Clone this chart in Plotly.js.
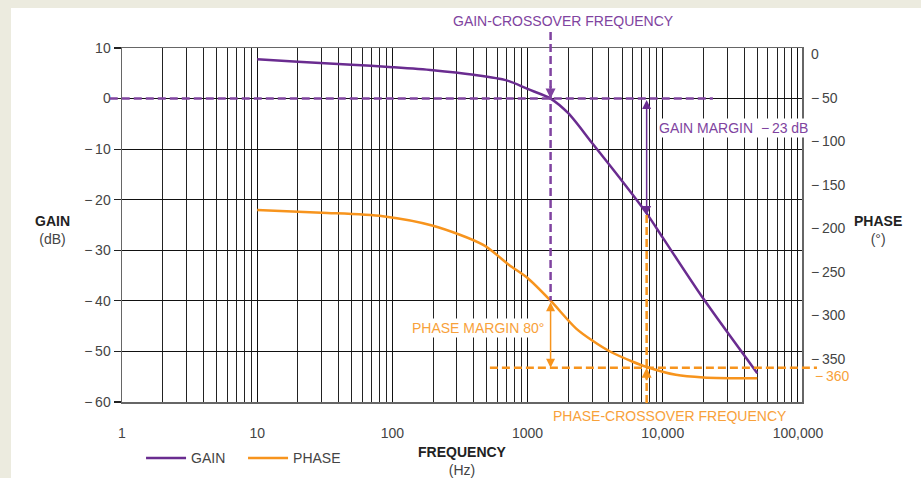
<!DOCTYPE html>
<html><head><meta charset="utf-8">
<script src="https://cdn.plot.ly/plotly-3.0.1.min.js"></script>
<style>
html,body{margin:0;padding:0;background:#ecebdf;width:921px;height:478px;overflow:hidden;}
#chart{position:absolute;left:11px;top:8px;width:910px;height:470px;}
</style></head><body><div id="chart"></div>
<script>
// ---- data ----
const gainFreqHz = [10, 20, 50, 100, 200, 400, 700, 1000, 1480, 2000, 3000, 5000, 7600, 10000, 20000, 50000];
const gainDb     = [7.8, 7.3, 6.7, 6.2, 5.6, 4.7, 3.6, 1.9, 0, -2.9, -8.8, -16.3, -22.7, -27.5, -39.6, -54.3];
const phaseFreqHz = [10, 30, 85, 200, 470, 730, 1000, 1480, 2290, 3030, 4040, 6000, 7600, 12500, 20000, 50000];
const phaseDeg    = [-179, -182, -186, -197, -219, -242, -257, -283, -315, -329, -341, -353, -359, -368, -371, -372];

const freqTickVals = [1, 10, 100, 1000, 10000, 100000];
const freqTickText = ['1', '10', '100', '1000', '10,000', '100,000'];
const gainTickVals = [10, 0, -10, -20, -30, -40, -50, -60];
const phaseTickVals = [0, -50, -100, -150, -200, -250, -300, -350, -400];

const gainCrossoverHz = 1480;
const phaseCrossoverHz = 7600;
const gainMarginDb = -23;
const phaseAtGainCrossoverDeg = -283;
const phaseCrossoverDeg = -360;
const phaseMarginDeg = 80;

// ---- helpers ----
const PURPLE = '#6a2c90', PURPLE_L = '#8043a0', ORANGE = '#f7941d', ORANGE_T = '#f8a13a';
const NARROW = "'Liberation Sans Narrow','Arial Narrow','Liberation Sans',sans-serif";
const BASE = '"Liberation Sans",Arial,sans-serif';
const Y_RANGE = [-60, 10];
const Y2_RANGE = [-399.2, 6.9];
const yP = v => (v - Y_RANGE[0]) / (Y_RANGE[1] - Y_RANGE[0]);
const y2P = v => (v - Y2_RANGE[0]) / (Y2_RANGE[1] - Y2_RANGE[0]);
const lg = Math.log10;
const fmt = v => v < 0 ? '\u2212\u2009' + Math.abs(v) : String(v);
const bold = t => '<span style="font-family:' + NARROW + ';font-weight:bold;color:#222">' + t + '</span>';
const DASH = '8px,4px';

const traces = [
  {x: gainFreqHz, y: gainDb, name: 'GAIN', type: 'scatter', mode: 'lines',
   line: {color: PURPLE, width: 2.5, shape: 'spline', smoothing: 0.8}, yaxis: 'y'},
  {x: phaseFreqHz, y: phaseDeg, name: 'PHASE', type: 'scatter', mode: 'lines',
   line: {color: ORANGE, width: 2.5, shape: 'spline', smoothing: 0.8}, yaxis: 'y2'}
];

const shapes = [
  {type: 'line', xref: 'paper', yref: 'y', x0: -0.018, x1: 0.869, y0: 0, y1: 0,
   line: {color: PURPLE_L, width: 2.5, dash: DASH}},
  {type: 'line', xref: 'x', yref: 'paper', x0: gainCrossoverHz, x1: gainCrossoverHz,
   y0: 1.045, y1: y2P(phaseAtGainCrossoverDeg), line: {color: PURPLE_L, width: 2.5, dash: DASH}},
  {type: 'line', xref: 'paper', yref: 'y2', x0: 0.541, x1: 1.022, y0: phaseCrossoverDeg, y1: phaseCrossoverDeg,
   line: {color: ORANGE, width: 2.5, dash: DASH}},
  {type: 'line', xref: 'x', yref: 'paper', x0: phaseCrossoverHz, x1: phaseCrossoverHz,
   y0: yP(gainMarginDb), y1: -0.014, line: {color: ORANGE, width: 2.5, dash: DASH}}
];

const txt = (x, y, text, color, xanchor, extra) => Object.assign(
  {xref: 'paper', yref: 'paper', x: x, y: y, text: text, showarrow: false,
   xanchor: xanchor || 'center', yanchor: 'middle', font: {size: 14, color: color}}, extra || {});

const annotations = [
  // gain margin double arrow
  {x: lg(phaseCrossoverHz), y: gainMarginDb, xref: 'x', yref: 'y',
   ax: lg(phaseCrossoverHz), ay: 0, axref: 'x', ayref: 'y', text: '',
   showarrow: true, arrowhead: 2, startarrowhead: 2, arrowside: 'end+start',
   arrowsize: 1.2, startarrowsize: 1.2, arrowwidth: 1.5, arrowcolor: PURPLE},
  // phase margin double arrow
  {x: lg(gainCrossoverHz), y: phaseCrossoverDeg, xref: 'x', yref: 'y2',
   ax: lg(gainCrossoverHz), ay: phaseAtGainCrossoverDeg, axref: 'x', ayref: 'y2', text: '',
   showarrow: true, arrowhead: 2, startarrowhead: 2, arrowside: 'end+start',
   arrowsize: 1.2, startarrowsize: 1.2, arrowwidth: 1.5, arrowcolor: ORANGE},
  // arrowhead at gain crossover
  {x: lg(gainCrossoverHz), y: 0, xref: 'x', yref: 'y', ax: 0, ay: -14, text: '',
   showarrow: true, arrowhead: 2, arrowsize: 1, arrowwidth: 2, arrowcolor: PURPLE_L},
  // arrowhead at phase crossover
  {x: lg(phaseCrossoverHz), y: phaseCrossoverDeg, xref: 'x', yref: 'y2', ax: 0, ay: 14, text: '',
   showarrow: true, arrowhead: 2, arrowsize: 1, arrowwidth: 2, arrowcolor: ORANGE},
  // text labels
  txt(0.649, 1.077, 'GAIN-CROSSOVER FREQUENCY', PURPLE_L),
  txt(0.787, 0.775, 'GAIN MARGIN\u00a0\u00a0' + fmt(gainMarginDb) + ' dB', PURPLE_L, 'left', {bgcolor: '#ffffff'}),
  txt(0.624, 0.210, 'PHASE MARGIN ' + phaseMarginDeg + '°', ORANGE_T, 'right', {bgcolor: '#ffffff'}),
  txt(0.806, -0.040, 'PHASE-CROSSOVER FREQUENCY', ORANGE_T, 'center', {bgcolor: '#ffffff'}),
  txt(1.016, 0.074, fmt(phaseCrossoverDeg), ORANGE_T, 'left'),
  txt(-0.1015, 0.4845, bold('GAIN') + '<br>(dB)', '#444'),
  txt(1.112, 0.4845, bold('PHASE') + '<br>(°)', '#444')
];

const layout = {
  width: 910, height: 470,
  margin: {l: 111, r: 119, t: 40, b: 76, autoexpand: false},
  paper_bgcolor: '#ffffff', plot_bgcolor: '#ffffff',
  font: {family: BASE, size: 14, color: '#444'},
  showlegend: true,
  legend: {orientation: 'h', x: 0.028, y: -0.159, xanchor: 'left', yanchor: 'middle',
           font: {size: 14, color: '#444'}, itemwidth: 40, entrywidth: 47, entrywidthmode: 'pixels',
           bgcolor: 'rgba(0,0,0,0)'},
  xaxis: {type: 'log', range: [0, 5.03], tickmode: 'array', tickvals: freqTickVals, ticktext: freqTickText,
          automargin: false,
          showgrid: true, gridcolor: '#111', gridwidth: 1, zeroline: false,
          minor: {dtick: 'D1', tick0: 0, showgrid: true, gridcolor: '#222', gridwidth: 1},
          showline: true, mirror: true, linecolor: '#666', linewidth: 1.5,
          ticks: '', ticklabelstandoff: 18, tickfont: {size: 14, color: '#444'},
          title: {text: bold('FREQUENCY') + '<br>(Hz)', font: {size: 14, color: '#444'}, standoff: 14}},
  yaxis: {range: Y_RANGE, tickmode: 'array', tickvals: gainTickVals, ticktext: gainTickVals.map(fmt),
          automargin: false,
          showgrid: true, gridcolor: '#111', gridwidth: 1.2, zeroline: false,
          showline: true, mirror: true, linecolor: '#666', linewidth: 1.5,
          ticks: 'outside', ticklen: 7, tickcolor: '#222', tickwidth: 1.2,
          tickfont: {size: 14, color: '#444'}},
  yaxis2: {range: Y2_RANGE, overlaying: 'y', side: 'right', tickmode: 'array', tickvals: phaseTickVals,
           automargin: false,
           ticktext: phaseTickVals.map(fmt), showgrid: false, zeroline: false, showline: false,
           ticks: '', ticklabelstandoff: 8, tickfont: {size: 14, color: '#444'}},
  shapes: shapes,
  annotations: annotations
};

Plotly.newPlot('chart', traces, layout, {staticPlot: true, displayModeBar: false});
</script></body></html>
